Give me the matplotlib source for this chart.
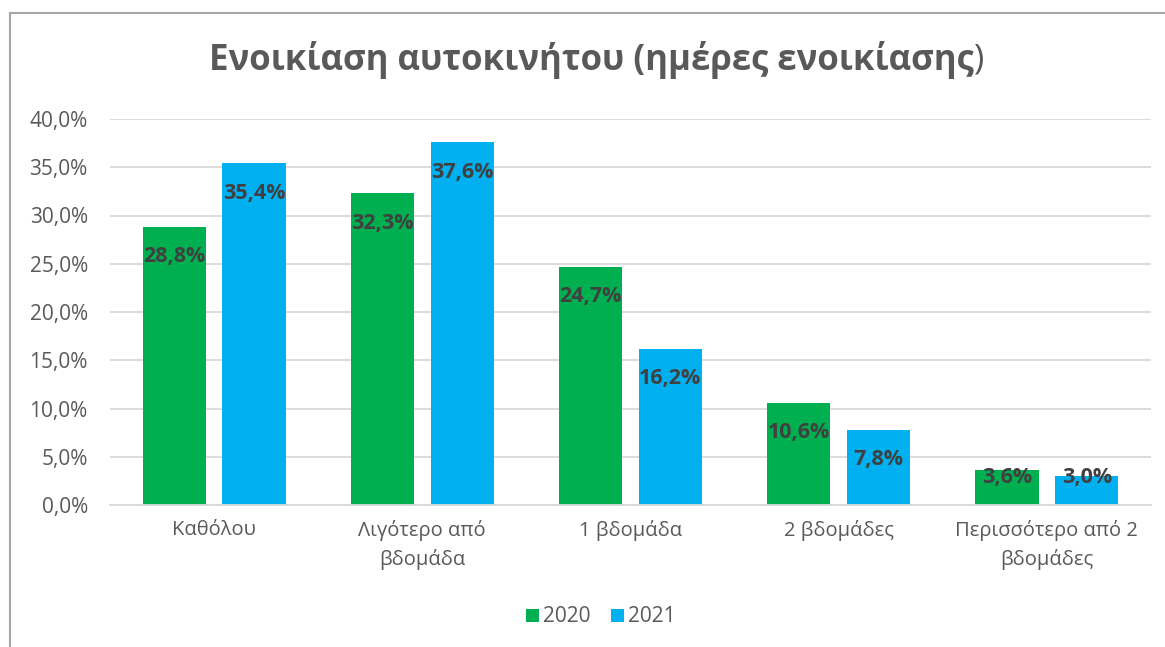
import numpy as np
import matplotlib.pyplot as plt
from matplotlib.lines import Line2D
from matplotlib.ticker import FuncFormatter

plt.rcParams['font.family'] = ['Open Sans', 'DejaVu Sans']

categories = ['Καθόλου', 'Λιγότερο από\nβδομάδα', '1 βδομάδα', '2 βδομάδες', 'Περισσότερο από 2\nβδομάδες']
years = ['2020', '2021']
values_2020 = [28.8, 32.3, 24.7, 10.6, 3.6]
values_2021 = [35.4, 37.6, 16.2, 7.8, 3.0]
colors = ['#00B050', '#00B0F0']

W, H = 1165, 647
fig = plt.figure(figsize=(W / 100, H / 100), dpi=100)
ax = fig.add_axes([110 / W, 1 - 505 / H, (1151 - 110) / W, (505 - 119) / H])

x = np.arange(len(categories))
bw = 0.303
gap = 0.08
offs = [-(bw + gap) / 2, (bw + gap) / 2]

for vals, off, col, yr in zip([values_2020, values_2021], offs, colors, years):
    ax.bar(x + off, vals, width=bw, color=col, label=yr, zorder=2)
    for xi, v in zip(x + off, vals):
        ax.text(xi, max(v - 3.1, 2.9), f'{v:.1f}%'.replace('.', ','),
                ha='center', va='center', fontsize=15.5, fontweight='bold',
                color='#404040', zorder=3)

ax.set_xlim(-0.5, len(categories) - 0.5)
ax.set_ylim(0, 40)
ax.set_yticks(np.arange(0, 41, 5))
ax.yaxis.set_major_formatter(FuncFormatter(lambda v, p: f'{v:.1f}%'.replace('.', ',')))
ax.grid(axis='y', color='#D9D9D9', linewidth=1.3, zorder=0)
ax.set_axisbelow(True)
for s in ['top', 'right', 'left']:
    ax.spines[s].set_visible(False)
ax.spines['bottom'].set_color('#D9D9D9')
ax.spines['bottom'].set_linewidth(1.3)
ax.set_xticks(x)
ax.set_xticklabels(categories, fontsize=14.5, color='#595959', linespacing=1.5)
ax.tick_params(axis='x', length=0, pad=11)
ax.tick_params(axis='y', length=0, pad=16, labelsize=15, labelcolor='#595959')

# title (closing parenthesis is not bold in the original)
t = fig.text(0.508, 1 - 60 / H, 'Ενοικίαση αυτοκινήτου (ημέρες ενοικίασης',
             ha='center', va='center', fontsize=25, fontweight='bold', color='#595959')
fig.canvas.draw()
bb = t.get_window_extent()
fig.text(bb.x1 / W, 1 - 60 / H, ')', ha='left', va='center', fontsize=25, color='#595959')

fig.legend(loc='center', bbox_to_anchor=(601 / W, 1 - 617 / H), ncol=2, frameon=False,
           fontsize=15, handlelength=0.6, handleheight=0.6, handletextpad=0.2,
           columnspacing=1.0, labelcolor='#595959')

fig.add_artist(Line2D([10 / W, 10 / W], [0, 1 - 13 / H], color='#A6A6A6', linewidth=1.5))
fig.add_artist(Line2D([10 / W, 1], [1 - 13 / H, 1 - 13 / H], color='#A6A6A6', linewidth=1.5))

fig.savefig('out.png', dpi=100)
